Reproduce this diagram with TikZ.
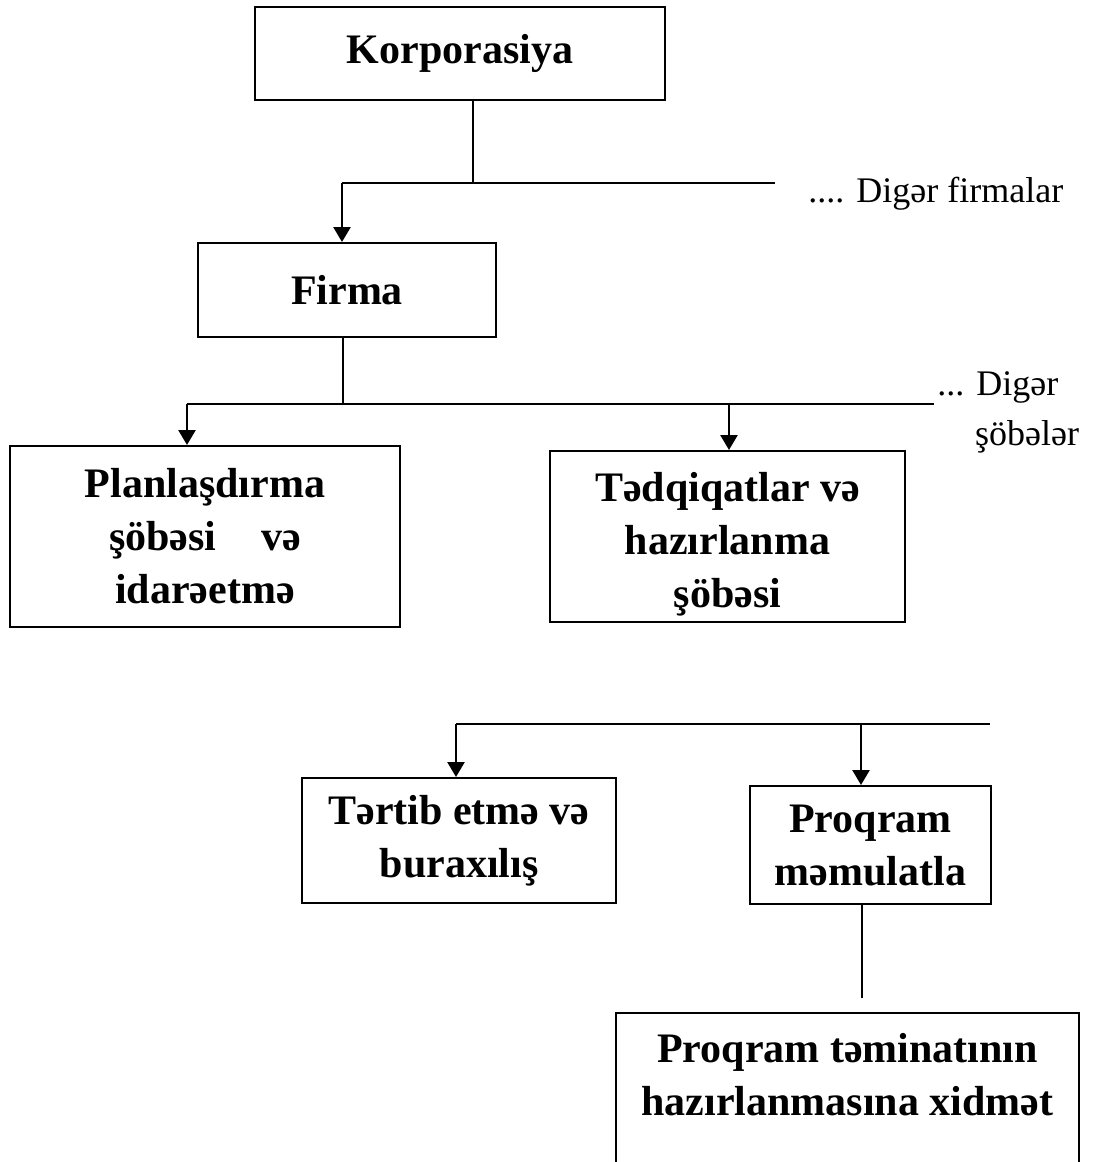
\documentclass[tikz,border=0pt]{standalone}
\usepackage{fontspec}
\setmainfont{Liberation Serif}
\usetikzlibrary{arrows.meta}

\begin{document}
\begin{tikzpicture}[
    x=0.5pt, y=-0.5pt,
    box/.style  ={draw, line width=1pt, inner sep=0pt, align=center,
                  font=\bfseries\fontsize{21}{26.5}\selectfont},
    note/.style ={inner sep=0pt, align=left, font=\fontsize{18}{25}\selectfont},
    arrow/.style={-{Triangle[width=8.5pt, length=7.5pt]}, line width=1.3pt},
    line/.style ={line width=1pt},
]
\useasboundingbox (0,0) rectangle (1094,1162);

% ── Corporation and firm ────────────────────────────────────────────────
\node[box, minimum width=205pt, minimum height=46.5pt] (korp)  at (460,53.5) {Korporasiya};
\node[box, minimum width=149pt, minimum height=47pt]   (firma) at (347,290)  {Firma};

% ── Departments ─────────────────────────────────────────────────────────
\node[box, minimum width=195pt, minimum height=90.5pt] (plan) at (205,536.5)
      {Planlaşdırma\\şöbəsi\hspace{1.07em}və\\idarəetmə};
\node[box, minimum width=177.5pt, minimum height=85.5pt] (tedq) at (727.5,536.5)
      {\\[-4pt]Tədqiqatlar və\\hazırlanma\\şöbəsi};

% ── Sub-units ───────────────────────────────────────────────────────────
\node[box, minimum width=157pt, minimum height=62.5pt] (tertib) at (459,840.5)
      {Tərtib etmə və\\buraxılış};
\node[box, minimum width=120.5pt, minimum height=59pt] (proq) at (870.5,845)
      {Proqram\\məmulatla};
\node[box, minimum width=231.5pt, minimum height=108pt, anchor=north] (xidmet) at (847.5,1012)
      {Proqram təminatının\\hazırlanmasına xidmət\\[20pt]\mbox{}};

% ── Side notes ──────────────────────────────────────────────────────────
\node[note, anchor=base west] (firmalar) at (808,202) {.... Digər firmalar};
\node[note, anchor=north west] (sobeler) at (937,371) {... Digər\\\hspace*{1.05em}şöbələr};

% ── Bus coordinates ─────────────────────────────────────────────────────
\coordinate (k1)  at (473,183);
\coordinate (b1w) at (342,183);
\coordinate (b1e) at (775,183);
\coordinate (f1)  at (343,404);
\coordinate (b2w) at (187,404);
\coordinate (b2m) at (729,404);
\coordinate (b2e) at (934,404);
\coordinate (b3w) at (456,724);
\coordinate (b3m) at (861,724);
\coordinate (b3e) at (990,724);
\coordinate (p1)  at (862,998);

% ── Connectors ──────────────────────────────────────────────────────────
\draw[line]  (korp.south -| k1) -- (k1);
\draw[line]  (b1w) -- (b1e);
\draw[arrow] (b1w) -- (firma.north -| b1w);
\draw[line]  (firma.south -| f1) -- (f1);
\draw[line]  (b2w) -- (b2e);
\draw[arrow] (b2w) -- (plan.north -| b2w);
\draw[arrow] (b2m) -- (tedq.north -| b2m);
\draw[line]  (b3w) -- (b3e);
\draw[arrow] (b3w) -- (tertib.north -| b3w);
\draw[arrow] (b3m) -- (proq.north -| b3m);
\draw[line]  (proq.south -| p1) -- (p1);

\end{tikzpicture}
\end{document}
